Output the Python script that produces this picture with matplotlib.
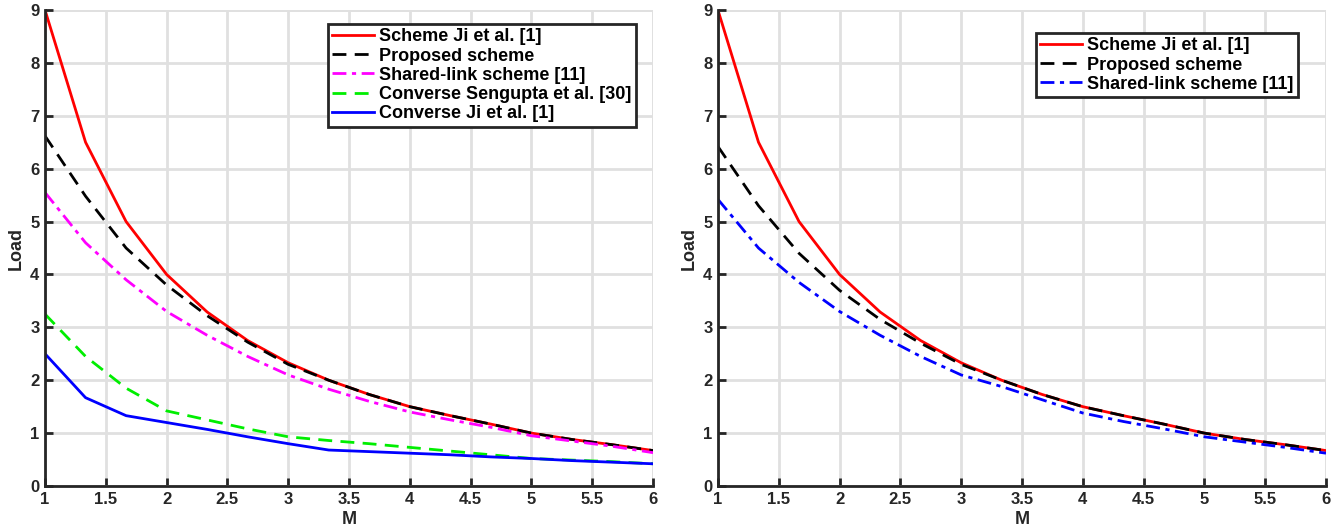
"""Plot load versus cache size M for two settings."""

import matplotlib
matplotlib.use("Agg")
import matplotlib.pyplot as plt

plt.rcParams["font.family"] = ["Liberation Sans", "DejaVu Sans"]
plt.rcParams["font.weight"] = "bold"

M = [1, 4/3, 5/3, 2, 7/3, 8/3, 3, 10/3, 11/3, 4, 13/3, 14/3, 5, 16/3, 17/3, 6]

# left panel
ji_left = [9, 6.5, 5, 4, 3.29, 2.75, 2.33, 2.0, 1.73, 1.5, 1.33, 1.17, 1.0, 0.88, 0.78, 0.67]
proposed_left = [6.62, 5.48, 4.5, 3.8, 3.22, 2.72, 2.3, 2.0, 1.73, 1.5, 1.33, 1.17, 1.0, 0.88, 0.78, 0.67]
shared_left = [5.55, 4.6, 3.9, 3.3, 2.85, 2.45, 2.1, 1.83, 1.6, 1.4, 1.25, 1.11, 0.95, 0.85, 0.75, 0.63]
sengupta = [3.25, 2.45, 1.85, 1.42, 1.25, 1.08, 0.93, 0.86, 0.8, 0.73, 0.66, 0.59, 0.52, 0.49, 0.46, 0.42]
converse_ji = [2.5, 1.67, 1.33, 1.2, 1.07, 0.93, 0.8, 0.68, 0.65, 0.62, 0.59, 0.55, 0.52, 0.48, 0.45, 0.42]

# right panel
ji_right = ji_left
proposed_right = [6.42, 5.3, 4.4, 3.7, 3.15, 2.7, 2.3, 2.0, 1.73, 1.5, 1.33, 1.17, 1.0, 0.88, 0.78, 0.67]
shared_right = [5.42, 4.5, 3.85, 3.3, 2.85, 2.45, 2.1, 1.88, 1.63, 1.38, 1.22, 1.08, 0.93, 0.83, 0.73, 0.62]

x_ticks = [1, 1.5, 2, 2.5, 3, 3.5, 4, 4.5, 5, 5.5, 6]
x_tick_labels = ["1", "1.5", "2", "2.5", "3", "3.5", "4", "4.5", "5", "5.5", "6"]
y_ticks = list(range(0, 10))

AXIS_COLOR = "#262626"
GRID_COLOR = "#e0e0e0"


def style_axes(ax):
    ax.set_xlim(1, 6)
    ax.set_ylim(0, 9)
    ax.set_xticks(x_ticks)
    ax.set_xticklabels(x_tick_labels)
    ax.set_yticks(y_ticks)
    ax.grid(True, color=GRID_COLOR, linewidth=2)
    ax.set_axisbelow(True)
    for side in ["top", "right"]:
        ax.spines[side].set_visible(False)
    for side in ["left", "bottom"]:
        ax.spines[side].set_color(AXIS_COLOR)
        ax.spines[side].set_linewidth(2)
    ax.tick_params(direction="in", length=6, width=2, colors=AXIS_COLOR,
                   labelsize=12, pad=4)
    ax.set_xlabel("M", fontsize=13, fontweight="bold", labelpad=3, color=AXIS_COLOR)
    ax.set_ylabel("Load", fontsize=13, fontweight="bold", labelpad=4, color=AXIS_COLOR)
    # grid lines at far edges
    ax.axvline(6, color=GRID_COLOR, linewidth=2, zorder=0)
    ax.axhline(9, color=GRID_COLOR, linewidth=2, zorder=0)


def style_legend(leg):
    frame = leg.get_frame()
    frame.set_edgecolor(AXIS_COLOR)
    frame.set_linewidth(2)
    frame.set_alpha(1)


fig = plt.figure(figsize=(13.36, 5.29), dpi=100)
ax1 = fig.add_axes([0.0337, 0.0813, 0.4551, 0.8997])
ax2 = fig.add_axes([0.5374, 0.0813, 0.4551, 0.8997])

lw = 2
dash = (0, (5, 3))
dashdot = (0, (5, 2, 1.5, 2))

ax1.plot(M, ji_left, color="red", linewidth=lw, label="Scheme Ji et al. [1]")
ax1.plot(M, proposed_left, color="black", linewidth=lw, linestyle=dash, label="Proposed scheme")
ax1.plot(M, shared_left, color="magenta", linewidth=lw, linestyle=dashdot, label="Shared-link scheme [11]")
ax1.plot(M, sengupta, color="#00ee00", linewidth=lw, linestyle=dash, label="Converse Sengupta et al. [30]")
ax1.plot(M, converse_ji, color="blue", linewidth=lw, label="Converse Ji et al. [1]")
style_axes(ax1)
leg1 = ax1.legend(loc="upper right", bbox_to_anchor=(0.972, 0.971), fontsize=13,
                  fancybox=False, borderpad=0.25, labelspacing=0.12,
                  handlelength=2.3, handletextpad=0.3, borderaxespad=0)
style_legend(leg1)

ax2.plot(M, ji_right, color="red", linewidth=lw, label="Scheme Ji et al. [1]")
ax2.plot(M, proposed_right, color="black", linewidth=lw, linestyle=dash, label="Proposed scheme")
ax2.plot(M, shared_right, color="blue", linewidth=lw, linestyle=dashdot, label="Shared-link scheme [11]")
style_axes(ax2)
leg2 = ax2.legend(loc="upper right", bbox_to_anchor=(0.954, 0.952), fontsize=13,
                  fancybox=False, borderpad=0.25, labelspacing=0.12,
                  handlelength=2.3, handletextpad=0.3, borderaxespad=0)
style_legend(leg2)

fig.savefig("out.png", dpi=100)
